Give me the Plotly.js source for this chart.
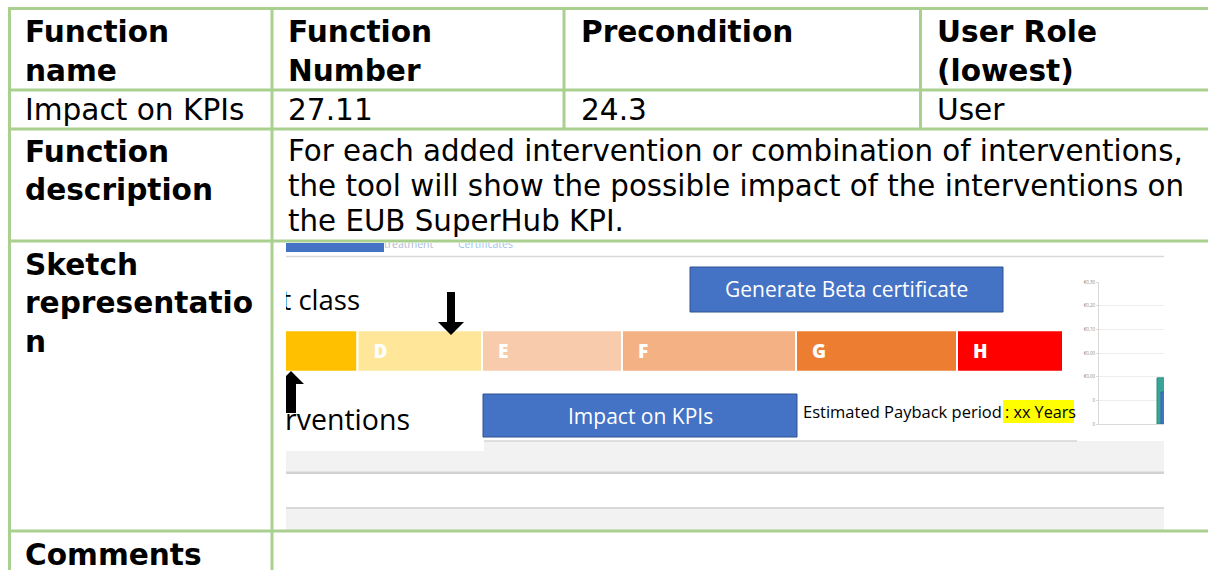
<!DOCTYPE html>
<html><head><meta charset="utf-8">
<script src="https://cdn.plot.ly/plotly-3.0.1.min.js"></script>
<style>html,body{margin:0;padding:0;background:#fff}#chart{width:1208px;height:570px}</style>
</head><body><div id="chart"></div>
<script>
// ---------- data ----------
const headerLabels = [['Function', 'name'], ['Function', 'Number'], ['Precondition'], ['User Role', '(lowest)']];
const rowValues = ['Impact on KPIs', '27.11', '24.3', 'User'];
const rowHeaders = [['Function', 'description'], ['Sketch', 'representatio', 'n'], ['Comments']];
const descriptionLines = [
  'For each added intervention or combination of interventions,',
  'the tool will show the possible impact of the interventions on',
  'the EUB SuperHub KPI.'
];
const energyClasses = ['C', 'D', 'E', 'F', 'G', 'H'];
const classWidths = [121.5, 124.5, 140, 174, 161, 106];
const buttonLabels = ['Generate Beta certificate', 'Impact on KPIs'];
const sectionLabels = ['t class', 'erventions'];
const tabLabels = ['treatment', 'Certificates'];
const paybackLabel = 'Estimated Payback period';
const paybackValue = ': xx Years';
const miniTickText = ['0', '0', '€0,00', '€0,00', '€0,10', '€0,20', '€0,30'];
const miniSeries = ['Before', 'After'];
const miniValues = [1.95, 1.35];

// ---------- styles ----------
const GREEN = '#A9D08E';
const BLUE = '#4472C4';
const classColors = ['#FFC000', '#FFE699', '#F8CBAD', '#F4B183', '#ED7D31', '#FF0000'];
const TABLE_FONT = 'DejaVu Sans';
const SKETCH_FONT = 'Open Sans';

const shapes = [];
const annotations = [];

function gline(x0, y0, x1, y1) {
  shapes.push({type: 'line', xref: 'x', yref: 'y', x0, y0, x1, y1, layer: 'above',
    line: {color: GREEN, width: 3}});
}
// table grid
[8.5, 90, 129, 241, 531].forEach(y => gline(8, y, 1208, y));
gline(9.5, 7, 9.5, 570);
gline(272, 7, 272, 570);
gline(564, 7, 564, 129);
gline(920.5, 7, 920.5, 129);

function txt(s, x, base, size, bold, opt) {
  opt = opt || {};
  const fam = opt.family || TABLE_FONT;
  const k = fam === TABLE_FONT ? 0.346 : 0.388;
  annotations.push({xref: 'x', yref: 'y', x: x, y: base - k * size, text: s, showarrow: false,
    xanchor: opt.anchor || 'left', yanchor: 'middle', borderpad: 0,
    font: {family: fam, size: size, color: opt.color || '#000', weight: bold ? 700 : 400}});
}
const colX = [24, 287, 580, 936];
const HS = 29.6, BS = 29.6, DS = 29.3;
headerLabels.forEach((lines, i) => lines.forEach((l, j) => txt(l, colX[i], 42.7 + j * 38.5, HS, true)));
rowValues.forEach((v, i) => txt(v, colX[i], 120, BS, false));
rowHeaders[0].forEach((l, j) => txt(l, 24, 162 + j * 38.5, HS, true));
descriptionLines.forEach((l, j) => txt(l, 287, 161 + j * 35, DS, false));
rowHeaders[1].forEach((l, j) => txt(l, 24, 275 + j * 38.5, HS, true));
rowHeaders[2].forEach((l, j) => txt(l, 24, 565, HS, true));

// ---------- sketch (subplot x2/y2 in pixel units, clipped) ----------
function srect(x0, y0, x1, y1, fill, layer, lc, lw) {
  shapes.push({type: 'rect', xref: 'x2', yref: 'y2', x0, y0, x1, y1, layer: layer || 'below',
    fillcolor: fill, line: {color: lc || fill, width: lw || 0}});
}
function sline(x0, y0, x1, y1, c, w) {
  shapes.push({type: 'line', xref: 'x2', yref: 'y2', x0, y0, x1, y1, layer: 'below', line: {color: c, width: w}});
}
srect(286, 441, 1164, 530, '#F2F2F2');
srect(286, 440, 484, 451, '#FFFFFF');
sline(484, 441, 1077, 441, '#D6D6D6', 1.5);
srect(286, 474, 1164, 507, '#FFFFFF');
sline(286, 472.8, 1164, 472.8, '#D2D2D2', 2.5);
sline(286, 508, 1164, 508, '#D9D9D9', 2);
srect(286, 243, 384, 252, BLUE);
sline(286, 256.5, 1164, 256.5, '#D9D9D9', 1.5);
// buttons
srect(690, 267, 1003, 312, BLUE, 'below', '#2F528F', 1);
srect(483, 394, 797, 437, BLUE, 'below', '#2F528F', 1);
// payback highlight
srect(1003, 400, 1074, 423, '#FFFF00');
// arrows
shapes.push({type: 'path', xref: 'x2', yref: 'y2', layer: 'above', fillcolor: '#000', line: {width: 0},
  path: 'M447,292 L455,292 L455,322 L464,322 L451,335 L438,322 L447,322 Z'});
shapes.push({type: 'path', xref: 'x2', yref: 'y2', layer: 'above', fillcolor: '#000', line: {width: 0},
  path: 'M286,413 L296,413 L296,384 L304,384 L291,371 L278,384 L286,384 Z'});

txt(buttonLabels[0], 846.5, 297, 21, false, {family: SKETCH_FONT, color: '#FFFFFF', anchor: 'center'});
txt(buttonLabels[1], 640, 424, 21, false, {family: SKETCH_FONT, color: '#FFFFFF', anchor: 'center'});
txt(paybackLabel, 802, 418, 16.5, false, {family: SKETCH_FONT});
txt(paybackValue, 1003.5, 418, 16.2, false, {family: SKETCH_FONT});

// energy class bar
const barStart = 236;
const classBases = [];
classWidths.reduce((acc, w) => { classBases.push(acc); return acc + w; }, barStart);
const traces = [];
traces.push({type: 'bar', orientation: 'h', xaxis: 'x2', yaxis: 'y2',
  x: classWidths, base: classBases, y: energyClasses.map(() => 351), width: 41.5,
  marker: {color: classColors, line: {color: '#FFFFFF', width: 2}}, hoverinfo: 'skip'});
traces.push({type: 'scatter', mode: 'text', xaxis: 'x2', yaxis: 'y2', cliponaxis: true,
  x: classBases.map(b => b + 16), y: energyClasses.map(() => 353), text: energyClasses,
  textposition: 'middle right', textfont: {family: SKETCH_FONT, size: 19, color: '#FFFFFF', weight: 800},
  hoverinfo: 'skip'});
// clipped section labels
traces.push({type: 'scatter', mode: 'text', xaxis: 'x2', yaxis: 'y2', cliponaxis: true,
  x: [360, 410], y: [303, 423], text: sectionLabels, textposition: 'middle left',
  textfont: {family: SKETCH_FONT, size: [27.5, 28.5], color: '#000'}, hoverinfo: 'skip'});
traces.push({type: 'scatter', mode: 'text', xaxis: 'x2', yaxis: 'y2', cliponaxis: true,
  x: [384, 458], y: [245.5, 245.5], text: tabLabels, textposition: 'middle right',
  textfont: {family: SKETCH_FONT, size: 10.5, color: ['#A9BAD6', '#9DC3E6']}, hoverinfo: 'skip'});

// mini chart
const miniX = [66, 69], miniW = [16, 14], miniColors = ['#3AA597', BLUE], miniLine = ['#2C8C80', '#3A62AA'];
miniSeries.forEach((s, i) => traces.push({type: 'bar', xaxis: 'x3', yaxis: 'y3', name: s,
  x: [miniX[i]], y: [miniValues[i]], width: [miniW[i]],
  marker: {color: miniColors[i], line: {color: miniLine[i], width: 1}}, hoverinfo: 'skip'}));

const layout = {
  width: 1208, height: 570, margin: {l: 0, r: 0, t: 0, b: 0, pad: 0},
  paper_bgcolor: '#FFFFFF', plot_bgcolor: 'rgba(0,0,0,0)', showlegend: false, barmode: 'overlay',
  xaxis: {domain: [0, 1], range: [0, 1208], visible: false, fixedrange: true},
  yaxis: {domain: [0, 1], range: [570, 0], visible: false, fixedrange: true},
  xaxis2: {domain: [286 / 1208, 1164 / 1208], range: [286, 1164], visible: false, anchor: 'y2'},
  yaxis2: {domain: [1 - 530 / 570, 1 - 243 / 570], range: [530, 243], visible: false, anchor: 'x2'},
  xaxis3: {domain: [1099 / 1208, 1164 / 1208], range: [0, 65], anchor: 'y3', showline: true,
    linecolor: '#D9D9D9', linewidth: 1, showgrid: false, zeroline: false, showticklabels: false, ticks: ''},
  yaxis3: {domain: [1 - 424 / 570, 1 - 282 / 570], range: [0, 6], anchor: 'x3',
    tickvals: miniTickText.map((_, i) => i), ticktext: miniTickText,
    tickfont: {family: SKETCH_FONT, size: 4.5, color: '#8C8C8C'}, ticks: 'outside', ticklen: 2,
    tickcolor: '#D9D9D9', showgrid: true, gridcolor: '#EEEEEE', showline: true, linecolor: '#D9D9D9', zeroline: false},
  shapes: shapes, annotations: annotations
};
Plotly.newPlot('chart', traces, layout, {staticPlot: true, displayModeBar: false});
</script></body></html>
